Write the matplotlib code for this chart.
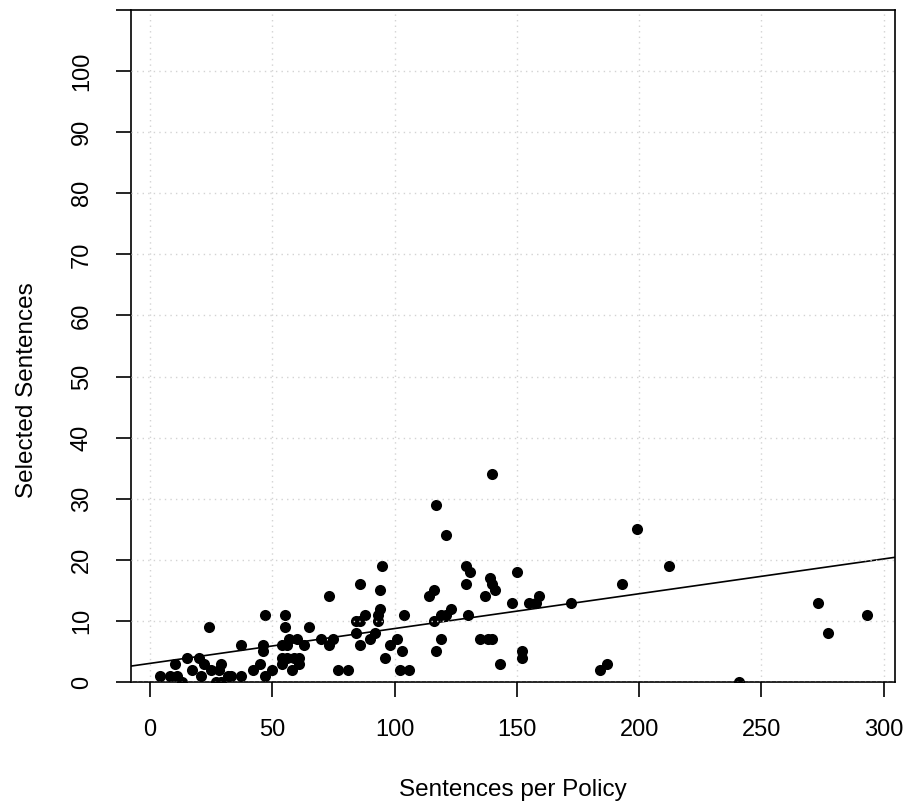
import matplotlib.pyplot as plt

# sentences per policy vs selected sentences
sentences = [4, 8, 11, 13, 10, 15, 17, 20, 21, 22, 24, 25, 27, 28, 29, 29, 32, 33, 37, 37,
             42, 45, 46, 46, 47, 47, 50,
             55, 55, 54, 56, 57, 60, 54, 56, 58, 59, 61, 61, 54, 63, 65, 70, 73, 73, 75, 77, 81,
             84, 86, 84, 86, 86, 88, 90, 92, 93, 93, 94, 94, 95, 96, 98, 101, 103, 102, 106, 104,
             114, 116, 116, 117, 117, 119, 121, 123, 119, 121, 129, 131, 129, 130, 135, 138, 140,
             137, 139, 140, 141, 140, 143, 148, 150, 152, 152, 155, 158, 159, 172, 184, 187, 193,
             199, 212, 241, 273, 277, 293]
selected = [1, 1, 1, 0, 3, 4, 2, 4, 1, 3, 9, 2, 0, 2, 3, 0, 1, 1, 1, 6,
            2, 3, 6, 5, 1, 11, 2,
            11, 9, 6, 6, 7, 7, 3, 4, 2, 4, 4, 3, 4, 6, 9, 7, 6, 14, 7, 2, 2,
            10, 10, 8, 6, 16, 11, 7, 8, 10, 11, 12, 15, 19, 4, 6, 7, 5, 2, 2, 11,
            14, 15, 10, 5, 29, 11, 11, 12, 7, 24, 19, 18, 16, 11, 7, 7, 7,
            14, 17, 16, 15, 34, 3, 13, 18, 5, 4, 13, 13, 14, 13, 2, 3, 16,
            25, 19, 0, 13, 8, 11]

# fitted line (intercept, slope) as drawn in the reference
intercept = 3.05
slope = 0.057

x_ticks = [0, 50, 100, 150, 200, 250, 300]
y_ticks = [0, 10, 20, 30, 40, 50, 60, 70, 80, 90, 100, 110]
y_labels = ["0", "10", "20", "30", "40", "50", "60", "70", "80", "90", "100", ""]

plt.rcParams['font.family'] = ['Liberation Sans', 'DejaVu Sans']

fig = plt.figure(figsize=(9.1, 8.08), dpi=100)
ax = fig.add_axes([131 / 910, 1 - 682 / 808, (895 - 131) / 910, (682 - 10) / 808])

xlim = (-7.8, 304.6)
ax.set_xlim(*xlim)
ax.set_ylim(0, 110)

# dotted light grey grid
for gx in x_ticks:
    ax.axvline(gx, color="#d3d3d3", linestyle=(0, (1, 3)), linewidth=1, zorder=1)
for gy in y_ticks[:-1]:
    ax.axhline(gy, color="#d3d3d3", linestyle=(0, (1, 3)), linewidth=1, zorder=3)

ax.scatter(sentences, selected, s=64, color="black", linewidths=0, zorder=2)
ax.plot(list(xlim), [intercept + slope * xlim[0], intercept + slope * xlim[1]],
        color="black", linewidth=1.2, zorder=2)

ax.set_xticks(x_ticks)
ax.set_yticks(y_ticks)
ax.set_yticklabels(y_labels, rotation=90, va="center")
ax.tick_params(axis="both", length=10.5, width=1.2, labelsize=17, direction="out")
ax.tick_params(axis="x", pad=16)
ax.tick_params(axis="y", pad=17)

for sp in ax.spines.values():
    sp.set_linewidth(1.2)

ax.set_xlabel("Sentences per Policy", fontsize=17.5)
ax.set_ylabel("Selected Sentences", fontsize=17.5)
ax.xaxis.set_label_coords(0.5, -0.161)
ax.xaxis.label.set_va("center")
ax.yaxis.set_label_coords(-0.136, 0.4345)
ax.yaxis.label.set_va("center")

fig.savefig("out.png", dpi=100)
